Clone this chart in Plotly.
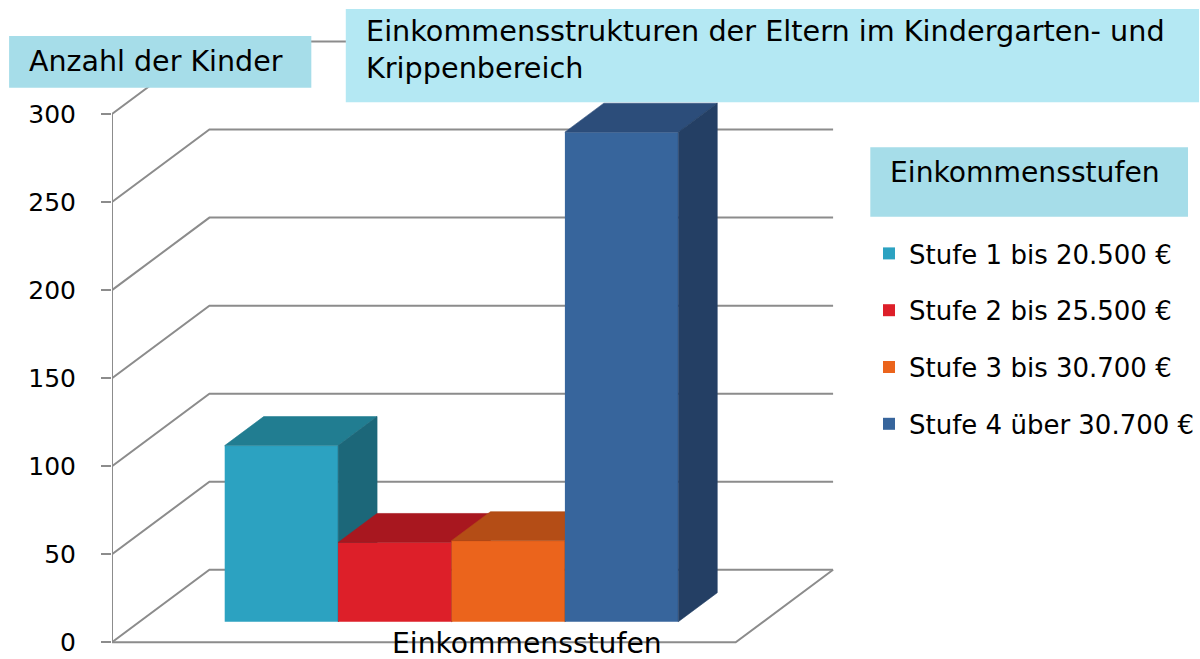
import plotly.graph_objects as go

# ---------------- data ----------------
categories = ["Einkommensstufen"]
series_names = ["Stufe 1 bis 20.500 €", "Stufe 2 bis 25.500 €",
                "Stufe 3 bis 30.700 €", "Stufe 4 über 30.700 €"]
values = [100, 45, 46, 278]
y_ticks = [0, 50, 100, 150, 200, 250, 300]
y_title = "Anzahl der Kinder"
chart_title = "Einkommensstrukturen der Eltern im Kindergarten- und<br>Krippenbereich"
legend_title = "Einkommensstufen"

# ---------------- styles ----------------
front_colors = ["#2CA2C1", "#DD1F29", "#EB641C", "#37659C"]
top_colors = ["#217D91", "#A8171F", "#B44D16", "#2C4D7A"]
side_colors = ["#1C6779", "#8F1319", "#99410F", "#243F64"]
grid_color = "#8C8C8C"
box_color = "#A6DDE9"
title_box_color = "#B4E8F3"
FONT = "DejaVu Sans"

# ---------------- geometry ----------------
W, H = 1200, 659
ML, MR, MT, MB = 112, 0, 30, 12
PW, PH = W - ML - MR, H - MT - MB
PX_PER_X = 113.5
PX_PER_Y = 1.761
Y0_PX = 642.3
X_RANGE = [0, PW / PX_PER_X]
Y_RANGE = [-(H - MB - Y0_PX) / PX_PER_Y, (Y0_PX - MT) / PX_PER_Y]

DEPTH_X = 97.5 / PX_PER_X
DEPTH_Y = 72.5 / PX_PER_Y
T0, T1 = 0.284, 0.684
GAP = 0.75
BAR_W = 1.0
FLOOR_W = 2 * GAP + BAR_W * len(values)


def xp(px):
    return (px - ML) / PW


def yp(py):
    return (H - MB - py) / PH


fig = go.Figure()

# walls / gridlines (3D style)
gx, gy = [], []
for v in y_ticks:
    gx += [0, DEPTH_X, FLOOR_W + DEPTH_X, None]
    gy += [v, v + DEPTH_Y, v + DEPTH_Y, None]
gx += [0, FLOOR_W, FLOOR_W + DEPTH_X, None]
gy += [0, 0, DEPTH_Y, None]
gx += [0, 0]
gy += [0, max(y_ticks)]
fig.add_trace(go.Scatter(x=gx, y=gy, mode="lines", line=dict(color=grid_color, width=2),
                         showlegend=False, hoverinfo="skip", xaxis="x", yaxis="y"))

# bars: one overlaid subplot per bar to keep painter's order
b = T0 * DEPTH_Y
ddx = (T1 - T0) * DEPTH_X
ddy = (T1 - T0) * DEPTH_Y
for i, v in enumerate(values):
    k = i + 2
    xa, ya = f"x{k}", f"y{k}"
    xl = GAP + i * BAR_W + T0 * DEPTH_X
    xr = xl + BAR_W
    fig.add_trace(go.Bar(x=[xl + BAR_W / 2], y=[v], base=[b], width=[BAR_W],
                         name=series_names[i], legendgroup=series_names[i],
                         marker=dict(color=front_colors[i], line=dict(width=0)),
                         xaxis=xa, yaxis=ya))
    fig.add_trace(go.Scatter(x=[xl, xl + ddx, xr + ddx, xr, xl],
                             y=[b + v, b + v + ddy, b + v + ddy, b + v, b + v],
                             fill="toself", fillcolor=top_colors[i], mode="lines",
                             line=dict(width=0.6, color=top_colors[i]),
                             showlegend=False, hoverinfo="skip", xaxis=xa, yaxis=ya))
    fig.add_trace(go.Scatter(x=[xr, xr + ddx, xr + ddx, xr, xr],
                             y=[b + v, b + v + ddy, b + ddy, b, b + v],
                             fill="toself", fillcolor=side_colors[i], mode="lines",
                             line=dict(width=0.6, color=side_colors[i]),
                             showlegend=False, hoverinfo="skip", xaxis=xa, yaxis=ya))

layout_axes = {}
for k in range(2, 2 + len(values)):
    layout_axes[f"xaxis{k}"] = dict(range=X_RANGE, overlaying="x", anchor=f"y{k}", visible=False)
    layout_axes[f"yaxis{k}"] = dict(range=Y_RANGE, overlaying="y", anchor=f"x{k}", visible=False)

shapes = [
    dict(type="rect", xref="paper", yref="paper", x0=xp(9), x1=xp(311.5), y0=yp(87.7), y1=yp(36),
         fillcolor=box_color, line=dict(width=0), layer="above"),
    dict(type="rect", xref="paper", yref="paper", x0=xp(346), x1=xp(1200), y0=yp(102.3), y1=yp(9),
         fillcolor=title_box_color, line=dict(width=0), layer="above"),
    dict(type="rect", xref="paper", yref="paper", x0=xp(871), x1=xp(1189), y0=yp(216.7), y1=yp(147.3),
         fillcolor=box_color, line=dict(width=0), layer="above"),
]

annotations = [
    dict(text=y_title, xref="paper", yref="paper", x=xp(27), y=yp(61), xanchor="left", yanchor="middle",
         showarrow=False, font=dict(family=FONT, size=28.5, color="black")),
    dict(text=chart_title, xref="paper", yref="paper", x=xp(364), y=yp(12), xanchor="left", yanchor="top",
         align="left", showarrow=False, font=dict(family=FONT, size=28.7, color="black")),
    dict(text=legend_title, xref="paper", yref="paper", x=xp(889), y=yp(172), xanchor="left", yanchor="middle",
         showarrow=False, font=dict(family=FONT, size=28.2, color="black")),
    dict(text=categories[0], xref="paper", yref="paper", x=xp(527), y=yp(643), xanchor="center", yanchor="middle",
         showarrow=False, font=dict(family=FONT, size=28.2, color="black")),
]

fig.update_layout(
    width=W, height=H,
    margin=dict(l=ML, r=MR, t=MT, b=MB, pad=0),
    paper_bgcolor="white", plot_bgcolor="rgba(0,0,0,0)",
    font=dict(family=FONT, color="black"),
    xaxis=dict(range=X_RANGE, visible=False, fixedrange=True),
    yaxis=dict(range=Y_RANGE, tickvals=y_ticks, ticks="outside", ticklen=10, tickwidth=2,
               tickcolor=grid_color, showgrid=False, zeroline=False, showline=False,
               tickfont=dict(family=FONT, size=25, color="black"), ticklabelstandoff=20,
               fixedrange=True),
    legend=dict(x=xp(870), y=yp(230), xanchor="left", yanchor="top",
                font=dict(family=FONT, size=26, color="black"),
                traceorder="grouped", tracegroupgap=20, bgcolor="rgba(0,0,0,0)"),
    shapes=shapes, annotations=annotations,
    **layout_axes,
)

fig.write_html("out.html",
               config={"displayModeBar": False},
               post_script="document.body.style.margin='0';document.body.style.overflow='hidden';")
